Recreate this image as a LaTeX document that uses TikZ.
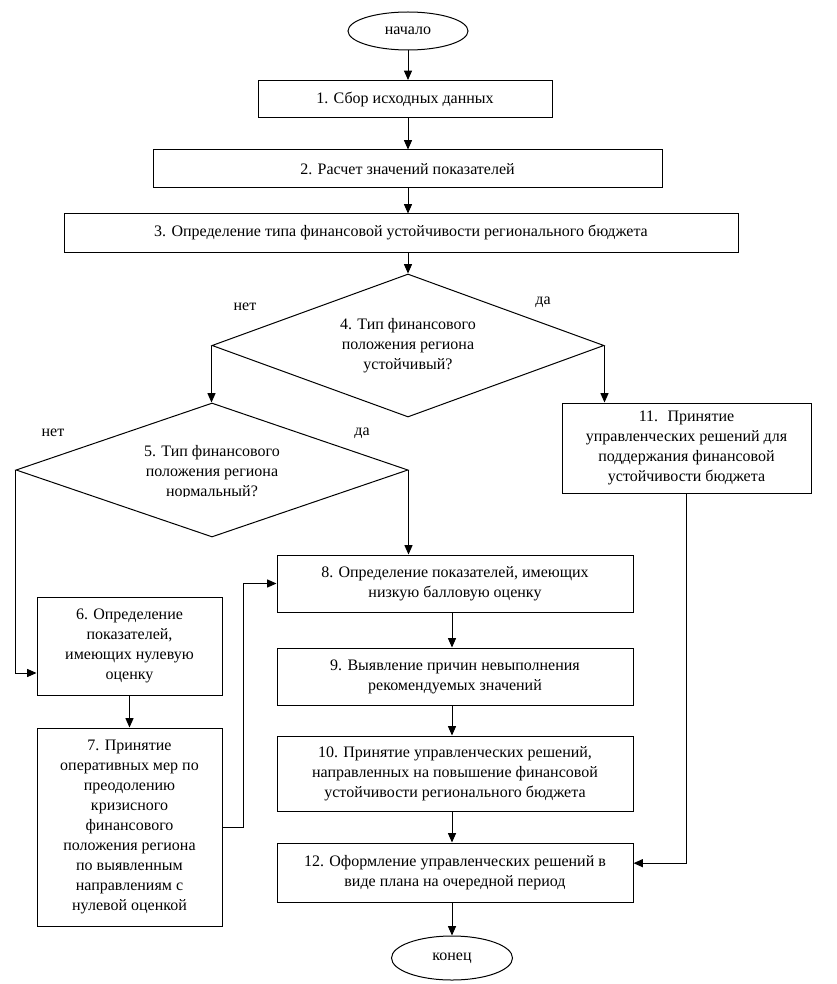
\documentclass[tikz,border=0pt]{standalone}
\usepackage{fontspec}
\setmainfont{Liberation Serif}
\usetikzlibrary{shapes.geometric,arrows.meta,calc}
\begin{document}
\begin{tikzpicture}[x=0.75pt,y=-0.75pt,
  font=\fontsize{12pt}{15pt}\selectfont,
  line width=0.75pt,
  sz/.style n args={2}{minimum width=#1*0.75pt,minimum height=#2*0.75pt},
  box/.style={draw, rectangle, align=center, inner sep=0pt},
  oval/.style={draw, ellipse, inner sep=0pt},
  dia/.style={draw, diamond, align=center, inner sep=0pt},
  arr/.style={-{Triangle[length=7pt,width=6pt]}},
  lbl/.style={inner sep=0pt}]
\useasboundingbox (0,0) rectangle (837,984);

\node[oval, sz={120}{38}] (start) at (408,31) {начало};
\node[box, sz={294}{37}] (b1) at (405,99) {1. Сбор исходных данных};
\node[box, sz={509}{38}] (b2) at (407.5,169) {2. Расчет значений показателей};
\node[box, sz={674}{38}] (b3) at (401,233) {3. Определение типа финансовой устойчивости регионального бюджета};
\node[dia, sz={392}{143}, shape aspect=2.7] (d4) at (408,345.5) {4. Тип финансового\\положения региона\\устойчивый?};
\node[dia, sz={392}{134}, shape aspect=2.9] (d5) at (212,470) {};
\begin{scope}
  \clip (100,430) rectangle (330,496);
  \node[lbl, align=center] (d5t) at (212,473) {5. Тип финансового\\положения региона\\нормальный?};
\end{scope}
\node[box, sz={249}{90}] (b11) at (686.5,448) {11.~ Принятие\\управленческих решений для\\поддержания финансовой\\устойчивости бюджета};
\node[box, sz={356}{57}] (b8) at (455,583.5) {8. Определение показателей, имеющих\\низкую балловую оценку};
\node[box, sz={356}{57}] (b9) at (455,676.5) {9. Выявление причин невыполнения\\рекомендуемых значений};
\node[box, sz={356}{75}] (b10) at (455,773.5) {10. Принятие управленческих решений,\\направленных на повышение финансовой\\устойчивости регионального бюджета};
\node[box, sz={356}{59}] (b12) at (455,872.5) {12. Оформление управленческих решений в\\виде плана на очередной период};
\node[oval, sz={121}{44}] (end) at (452,958) {конец};
\node[box, sz={185}{98}] (b6) at (129.5,646) {6. Определение\\показателей,\\имеющих нулевую\\оценку};
\node[box, sz={185}{198}] (b7) at (129.5,827) {7. Принятие\\оперативных мер по\\преодолению\\кризисного\\финансового\\положения региона\\по выявленным\\направлениям с\\нулевой оценкой};

\node[lbl] (n4) at (245,307) {нет};
\node[lbl] (y4) at (543,302) {да};
\node[lbl] (n5) at (53,433) {нет};
\node[lbl] (y5) at (362,433) {да};

\draw[arr] (start.south) -- (start.south |- b1.north);
\draw[arr] (b1.south -| start.south) -- (b2.north -| start.south);
\draw[arr] (b2.south -| start.south) -- (b3.north -| start.south);
\draw[arr] (b3.south -| d4.north) -- (d4.north);
\draw[arr] (d4.west) -- (d4.west |- d5.north);
\draw[arr] (d4.east) -- (d4.east |- b11.north);
\draw[arr] (d5.west) |- ([yshift=-20.25pt]b6.west);
\draw[arr] (d5.east) -- (d5.east |- b8.north);
\draw[arr] (b6.south) -- (b7.north);
\draw[arr] (b7.east) -- ++(21,0) |- (b8.west);
\draw[arr] (b8.south -| end.north) -- (b9.north -| end.north);
\draw[arr] (b9.south -| end.north) -- (b10.north -| end.north);
\draw[arr] (b10.south -| end.north) -- (b12.north -| end.north);
\draw[arr] (b12.south -| end.north) -- (end.north);
\draw[arr] (b11.south) |- ([yshift=7pt]b12.east);
\end{tikzpicture}
\end{document}
